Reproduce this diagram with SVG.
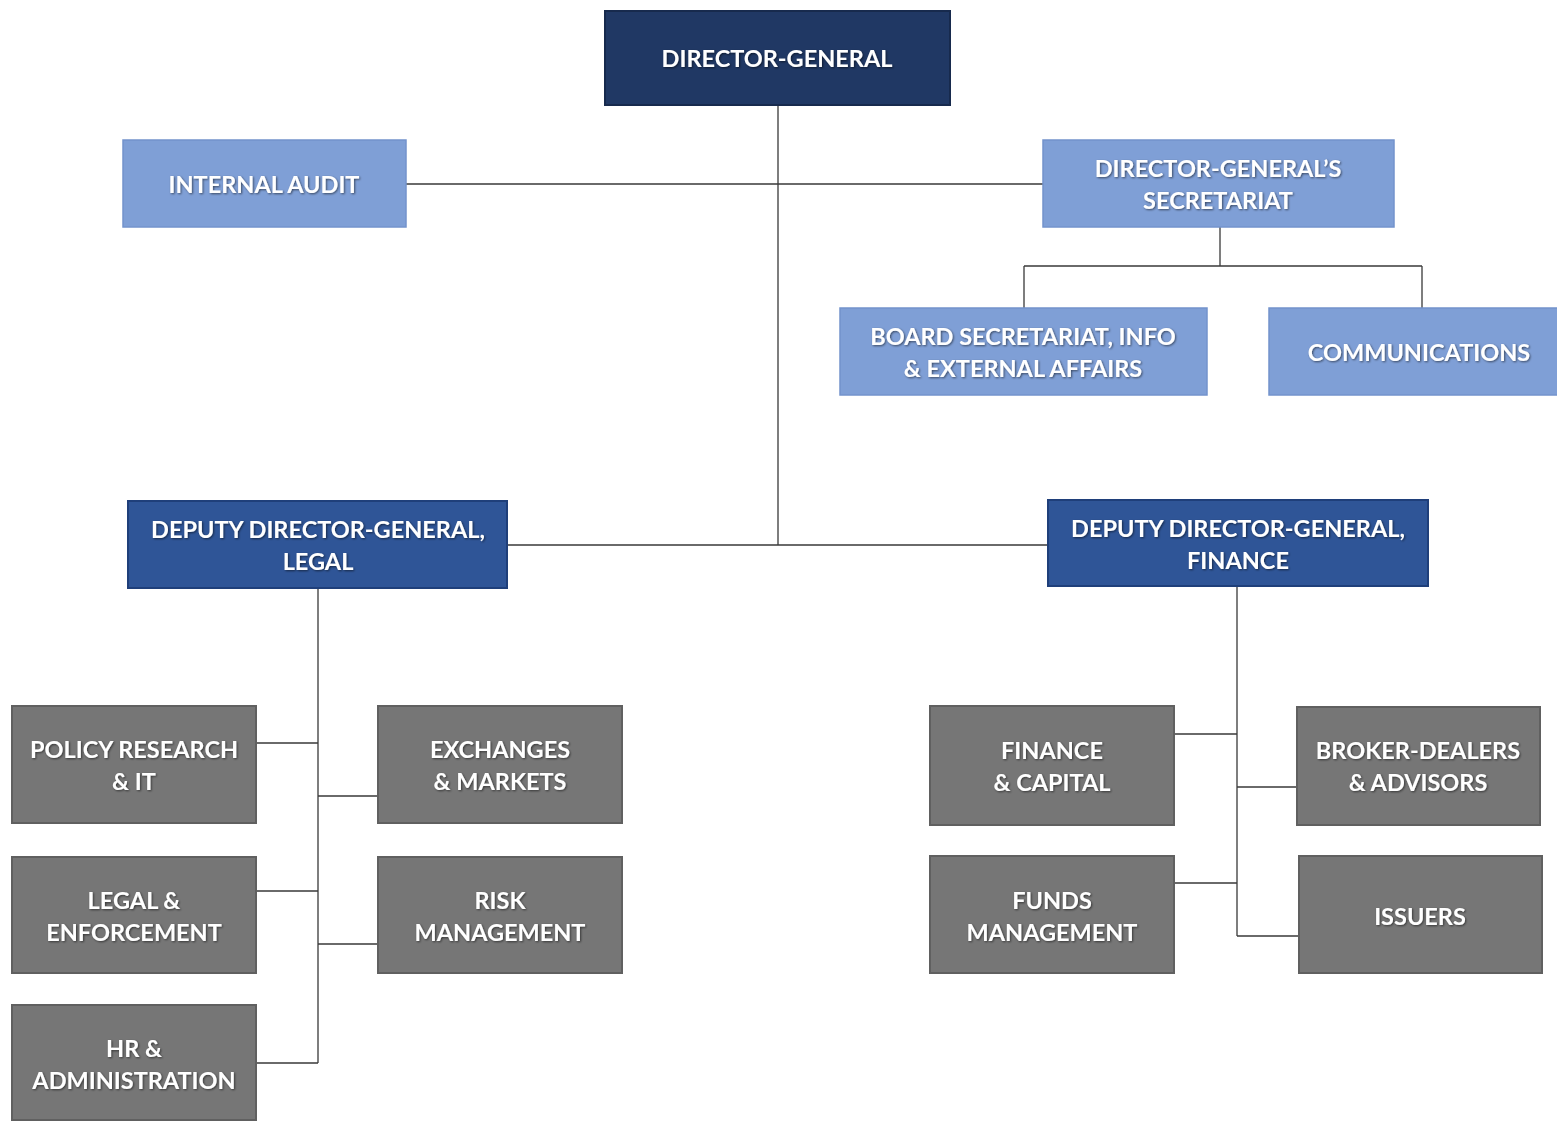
<svg xmlns="http://www.w3.org/2000/svg" width="1557" height="1121" viewBox="0 0 1557 1121">
<defs>
<filter id="sh" x="-10%" y="-30%" width="120%" height="160%">
<feDropShadow dx="1" dy="1" stdDeviation="1.2" flood-color="#000" flood-opacity="0.55"/>
</filter>
<style>
.t{font-family:Lato,"Open Sans","Liberation Sans",sans-serif;font-weight:bold;font-size:23.5px;fill:#fff;text-anchor:middle;filter:url(#sh)}
.dg{fill:#203864;stroke:#172a4d;stroke-width:2}
.dd{fill:#2f5597;stroke:#1f3f7a;stroke-width:2}
.lb{fill:#7f9fd6;stroke:#7393cc;stroke-width:1.5}
.gr{fill:#767676;stroke:#606060;stroke-width:2}
.c{stroke:#3a3a3a;stroke-width:1.3;fill:none}
</style>
</defs>
<rect width="1557" height="1121" fill="#fff"/>
<g id="connectors">
<path class="c" d="M778 105V545M406 184H1043M1220 227V266M1024 266H1422M1024 266V308M1422 266V308M507 545H1048M318 588V1063M256 743H318M256 891H318M256 1063H318M318 796H378M318 944H378M1237 586V936M1174 734H1237M1174 883H1237M1237 787H1297M1237 936H1299"/>
</g>
<g id="dg"><rect class="dg" x="605" y="11" width="345" height="94"/><text class="t" x="777" y="67">DIRECTOR-GENERAL</text></g>
<g id="internal-audit"><rect class="lb" x="123" y="140" width="283" height="87"/><text class="t" x="264" y="193">INTERNAL AUDIT</text></g>
<g id="dg-secretariat"><rect class="lb" x="1043" y="140" width="351" height="87"/><text class="t" x="1218" y="177">DIRECTOR-GENERAL’S</text><text class="t" x="1218" y="209">SECRETARIAT</text></g>
<g id="board-secretariat"><rect class="lb" x="840" y="308" width="367" height="87"/><text class="t" x="1023" y="345">BOARD SECRETARIAT, INFO</text><text class="t" x="1023" y="377">&amp; EXTERNAL AFFAIRS</text></g>
<g id="communications"><rect class="lb" x="1269" y="308" width="290" height="87"/><text class="t" x="1419" y="361">COMMUNICATIONS</text></g>
<g id="ddg-legal"><rect class="dd" x="128" y="501" width="379" height="87"/><text class="t" x="318" y="538">DEPUTY DIRECTOR-GENERAL,</text><text class="t" x="318" y="570">LEGAL</text></g>
<g id="ddg-finance"><rect class="dd" x="1048" y="500" width="380" height="86"/><text class="t" x="1238" y="537">DEPUTY DIRECTOR-GENERAL,</text><text class="t" x="1238" y="569">FINANCE</text></g>
<g id="policy-research"><rect class="gr" x="12" y="706" width="244" height="117"/><text class="t" x="134" y="758">POLICY RESEARCH</text><text class="t" x="134" y="790">&amp; IT</text></g>
<g id="exchanges"><rect class="gr" x="378" y="706" width="244" height="117"/><text class="t" x="500" y="758">EXCHANGES</text><text class="t" x="500" y="790">&amp; MARKETS</text></g>
<g id="legal-enforcement"><rect class="gr" x="12" y="857" width="244" height="116"/><text class="t" x="134" y="909">LEGAL &amp;</text><text class="t" x="134" y="941">ENFORCEMENT</text></g>
<g id="risk"><rect class="gr" x="378" y="857" width="244" height="116"/><text class="t" x="500" y="909">RISK</text><text class="t" x="500" y="941">MANAGEMENT</text></g>
<g id="hr"><rect class="gr" x="12" y="1005" width="244" height="115"/><text class="t" x="134" y="1057">HR &amp;</text><text class="t" x="134" y="1089">ADMINISTRATION</text></g>
<g id="finance-capital"><rect class="gr" x="930" y="706" width="244" height="119"/><text class="t" x="1052" y="759">FINANCE</text><text class="t" x="1052" y="791">&amp; CAPITAL</text></g>
<g id="broker-dealers"><rect class="gr" x="1297" y="707" width="243" height="118"/><text class="t" x="1418" y="759">BROKER-DEALERS</text><text class="t" x="1418" y="791">&amp; ADVISORS</text></g>
<g id="funds"><rect class="gr" x="930" y="856" width="244" height="117"/><text class="t" x="1052" y="909">FUNDS</text><text class="t" x="1052" y="941">MANAGEMENT</text></g>
<g id="issuers"><rect class="gr" x="1299" y="856" width="243" height="117"/><text class="t" x="1420" y="925">ISSUERS</text></g>
</svg>
